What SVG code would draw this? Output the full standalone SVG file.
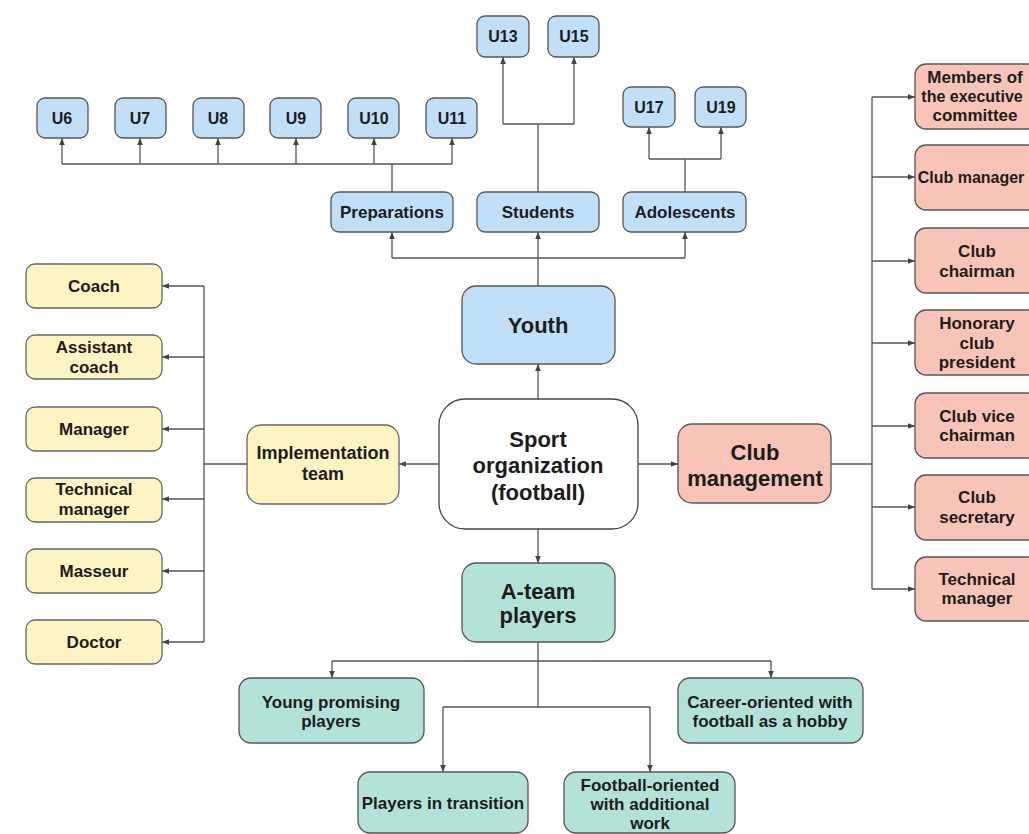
<svg xmlns="http://www.w3.org/2000/svg" width="1029" height="834" viewBox="0 0 1029 834">
<defs>
<marker id="ah" viewBox="0 0 10 10" refX="10" refY="5" markerWidth="7" markerHeight="7" markerUnits="userSpaceOnUse" orient="auto">
<path d="M0,1 L10,5 L0,9 Z" fill="#444"/>
</marker>
<style>
.b{fill:#c1e0f7;stroke:#555;stroke-width:1.3}
.y{fill:#fcf5c3;stroke:#666;stroke-width:1.3}
.p{fill:#f8c4b8;stroke:#555;stroke-width:1.3}
.g{fill:#b3e3d8;stroke:#555;stroke-width:1.3}
.w{fill:#fff;stroke:#444;stroke-width:1.3}
text{font-family:"Liberation Sans",Arial,sans-serif;font-weight:bold;fill:#1c1c1c;text-anchor:middle;dominant-baseline:central}
.s{font-size:16px}
.m{font-size:17px}
.l{font-size:22px}
.c{fill:none;stroke:#555;stroke-width:1.3;stroke-linejoin:round}
.a{marker-end:url(#ah)}
</style>
</defs>
<rect width="1029" height="834" fill="#fff"/>

<g id="connectors">
<path class="c a" d="M538,399 V364"/>
<path class="c a" d="M439,464 H399"/>
<path class="c a" d="M638,464 H678"/>
<path class="c a" d="M538,529 V563"/>
<path class="c" d="M538,286 V258 M392,258 H685"/>
<path class="c a" d="M392,258 V232"/>
<path class="c a" d="M538,258 V232"/>
<path class="c a" d="M685,258 V232"/>
<path class="c" d="M392,192 V164 M62,164 H452"/>
<path class="c a" d="M62,164 V138"/>
<path class="c a" d="M140,164 V138"/>
<path class="c a" d="M218,164 V138"/>
<path class="c a" d="M296,164 V138"/>
<path class="c a" d="M374,164 V138"/>
<path class="c a" d="M452,164 V138"/>
<path class="c" d="M538,192 V124 M503,124 H574"/>
<path class="c a" d="M503,124 V57"/>
<path class="c a" d="M574,124 V57"/>
<path class="c" d="M685,192 V159 M649,159 H721"/>
<path class="c a" d="M649,159 V127"/>
<path class="c a" d="M721,159 V127"/>
<path class="c" d="M247,464 H204 M204,286 V642"/>
<path class="c a" d="M204,286 H162"/>
<path class="c a" d="M204,357 H162"/>
<path class="c a" d="M204,429 H162"/>
<path class="c a" d="M204,499 H162"/>
<path class="c a" d="M204,571 H162"/>
<path class="c a" d="M204,642 H162"/>
<path class="c" d="M831,464 H872 M872,97 V589"/>
<path class="c a" d="M872,97 H915"/>
<path class="c a" d="M872,177 H915"/>
<path class="c a" d="M872,261 H915"/>
<path class="c a" d="M872,343 H915"/>
<path class="c a" d="M872,426 H915"/>
<path class="c a" d="M872,507 H915"/>
<path class="c a" d="M872,589 H915"/>
<path class="c" d="M538,642 V707 M332,661 H771 M443,707 H650"/>
<path class="c a" d="M332,661 V678"/>
<path class="c a" d="M771,661 V678"/>
<path class="c a" d="M443,707 V772"/>
<path class="c a" d="M650,707 V772"/>
</g>

<g id="sport"><rect class="w" x="439" y="399" width="199" height="130" rx="26"/>
<text class="l" x="538" y="439">Sport</text><text class="l" x="538" y="465">organization</text><text class="l" x="538" y="492">(football)</text></g>

<g id="youth"><rect class="b" x="462" y="286" width="153" height="78" rx="14"/><text class="l" x="538" y="325">Youth</text></g>

<g id="preparations"><rect class="b" x="331" y="192" width="122" height="40" rx="8"/><text class="m" x="392" y="212">Preparations</text></g>
<g id="students"><rect class="b" x="477" y="192" width="122" height="40" rx="8"/><text class="m" x="538" y="212">Students</text></g>
<g id="adolescents"><rect class="b" x="623" y="192" width="123" height="40" rx="8"/><text class="m" x="685" y="212">Adolescents</text></g>

<g id="u6"><rect class="b" x="37" y="98" width="51" height="40" rx="8"/><text class="s" x="62" y="118">U6</text></g>
<g id="u7"><rect class="b" x="115" y="98" width="51" height="40" rx="8"/><text class="s" x="140" y="118">U7</text></g>
<g id="u8"><rect class="b" x="193" y="98" width="51" height="40" rx="8"/><text class="s" x="218" y="118">U8</text></g>
<g id="u9"><rect class="b" x="270" y="98" width="51" height="40" rx="8"/><text class="s" x="296" y="118">U9</text></g>
<g id="u10"><rect class="b" x="348" y="98" width="51" height="40" rx="8"/><text class="s" x="374" y="118">U10</text></g>
<g id="u11"><rect class="b" x="426" y="98" width="51" height="40" rx="8"/><text class="s" x="452" y="118">U11</text></g>
<g id="u13"><rect class="b" x="477" y="16" width="52" height="41" rx="8"/><text class="s" x="503" y="36">U13</text></g>
<g id="u15"><rect class="b" x="548" y="16" width="51" height="41" rx="8"/><text class="s" x="574" y="36">U15</text></g>
<g id="u17"><rect class="b" x="623" y="87" width="52" height="40" rx="8"/><text class="s" x="649" y="107">U17</text></g>
<g id="u19"><rect class="b" x="695" y="87" width="51" height="40" rx="8"/><text class="s" x="721" y="107">U19</text></g>

<g id="implementation"><rect class="y" x="247" y="425" width="152" height="79" rx="14"/>
<text x="323" y="453" style="font-size:18px">Implementation</text><text x="323" y="474" style="font-size:18px">team</text></g>
<g id="coach"><rect class="y" x="26" y="264" width="136" height="44" rx="9"/><text class="m" x="94" y="286">Coach</text></g>
<g id="assistant"><rect class="y" x="26" y="335" width="136" height="44" rx="9"/><text class="m" x="94" y="347">Assistant</text><text class="m" x="94" y="367">coach</text></g>
<g id="manager"><rect class="y" x="26" y="407" width="136" height="44" rx="9"/><text class="m" x="94" y="429">Manager</text></g>
<g id="techmgr-left"><rect class="y" x="26" y="478" width="136" height="44" rx="9"/><text class="m" x="94" y="489">Technical</text><text class="m" x="94" y="509">manager</text></g>
<g id="masseur"><rect class="y" x="26" y="549" width="136" height="44" rx="9"/><text class="m" x="94" y="571">Masseur</text></g>
<g id="doctor"><rect class="y" x="26" y="620" width="136" height="44" rx="9"/><text class="m" x="94" y="642">Doctor</text></g>

<g id="clubmgmt"><rect class="p" x="678" y="424" width="153" height="79" rx="14"/>
<text class="l" x="755" y="452">Club</text><text class="l" x="755" y="478">management</text></g>
<g id="members"><rect class="p" x="915" y="64" width="124" height="65" rx="11"/><text class="m" x="975" y="77">Members of</text><text class="m" x="972" y="96" style="font-size:16px">the executive</text><text class="m" x="975" y="115">committee</text></g>
<g id="clubmanager"><rect class="p" x="915" y="145" width="124" height="65" rx="11"/><text class="m" x="971" y="177" style="font-size:16px">Club manager</text></g>
<g id="chairman"><rect class="p" x="915" y="228" width="124" height="65" rx="11"/><text class="m" x="977" y="251">Club</text><text class="m" x="977" y="271">chairman</text></g>
<g id="honorary"><rect class="p" x="915" y="310" width="124" height="65" rx="11"/><text class="m" x="977" y="323">Honorary</text><text class="m" x="977" y="343">club</text><text class="m" x="977" y="362">president</text></g>
<g id="vicechair"><rect class="p" x="915" y="393" width="124" height="65" rx="11"/><text class="m" x="977" y="416">Club vice</text><text class="m" x="977" y="435">chairman</text></g>
<g id="secretary"><rect class="p" x="915" y="475" width="124" height="65" rx="11"/><text class="m" x="977" y="497">Club</text><text class="m" x="977" y="517">secretary</text></g>
<g id="techmgr-right"><rect class="p" x="915" y="557" width="124" height="64" rx="11"/><text class="m" x="977" y="579">Technical</text><text class="m" x="977" y="598">manager</text></g>

<g id="ateam"><rect class="g" x="462" y="563" width="153" height="79" rx="14"/>
<text class="l" x="538" y="591">A-team</text><text class="l" x="538" y="615">players</text></g>
<g id="young"><rect class="g" x="239" y="678" width="185" height="65" rx="12"/><text class="m" x="331" y="702">Young promising</text><text class="m" x="331" y="721">players</text></g>
<g id="career"><rect class="g" x="678" y="678" width="185" height="65" rx="12"/><text class="m" x="770" y="702">Career-oriented with</text><text class="m" x="770" y="721">football as a hobby</text></g>
<g id="transition"><rect class="g" x="358" y="772" width="170" height="61" rx="12"/><text class="m" x="443" y="803">Players in transition</text></g>
<g id="footballoriented"><rect class="g" x="564" y="772" width="171" height="61" rx="12"/><text class="m" x="650" y="785">Football-oriented</text><text class="m" x="650" y="804">with additional</text><text class="m" x="650" y="823">work</text></g>
</svg>
